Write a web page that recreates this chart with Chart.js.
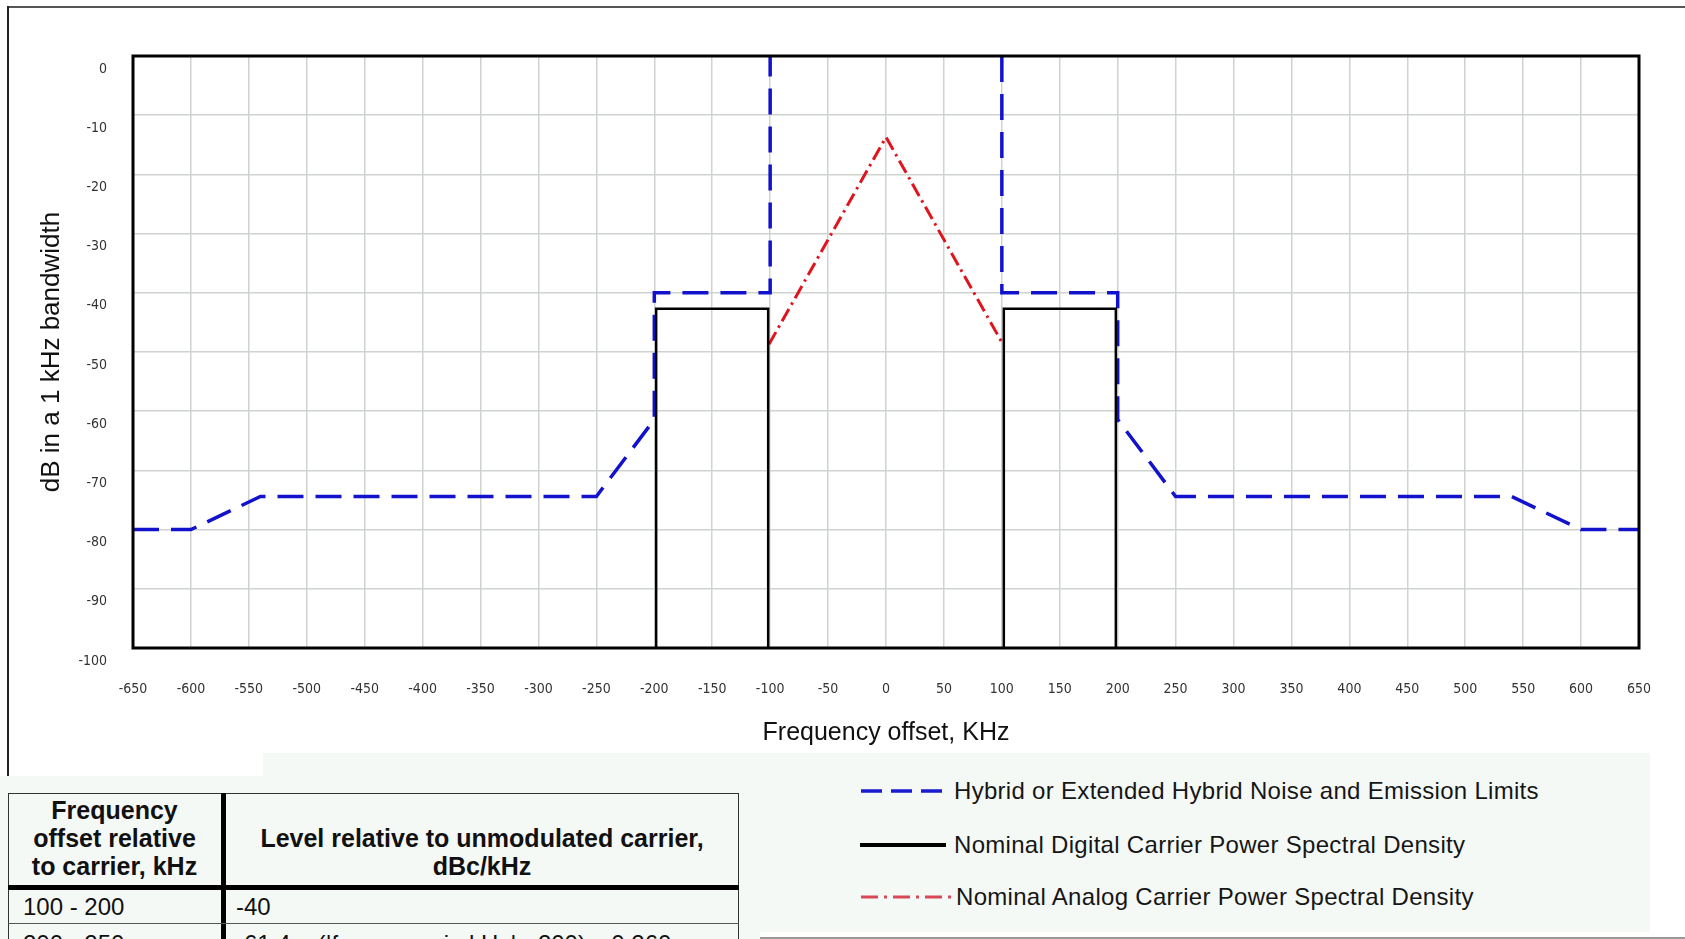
<!DOCTYPE html>
<html>
<head>
<meta charset="utf-8">
<script src="https://cdn.jsdelivr.net/npm/chart.js@4.4.1/dist/chart.umd.min.js"></script>
<style>
  html, body { margin: 0; padding: 0; background: #ffffff; }
  body { width: 1685px; height: 939px; overflow: hidden; position: relative; font-family: "Liberation Sans", Arial, sans-serif; }
  .abs { position: absolute; }
  #chartBox { position: absolute; left: 0; top: 0; width: 1685px; height: 748px; }
  .hdr { position: absolute; font-weight: bold; font-size: 25px; line-height: 28px; color: #111; text-align: center; white-space: nowrap; }
  .cell { position: absolute; font-size: 24px; line-height: 28px; color: #111; white-space: nowrap; }
  .leg { position: absolute; font-size: 24px; letter-spacing: 0.3px; color: #161616; white-space: nowrap; line-height: 28px; }
</style>
</head>
<body>
<!-- outer frame -->
<div class="abs" style="left:7px;top:6px;width:1678px;height:2px;background:#555;"></div>
<div class="abs" style="left:7px;top:6px;width:2px;height:770px;background:#222;"></div>
<!-- light background regions -->
<div class="abs" style="left:263px;top:753px;width:1387px;height:179px;background:#f5f9f6;"></div>
<div class="abs" style="left:0px;top:776px;width:760px;height:163px;background:#f5f9f6;"></div>
<div class="abs" style="left:760px;top:937px;width:925px;height:2px;background:#999;"></div>

<div id="chartBox"><canvas id="c"></canvas></div>

<!-- table -->
<div class="abs" style="left:8px;top:793px;width:729px;height:200px;border:1px solid #333;"></div>
<div class="abs" style="left:221px;top:793px;width:5px;height:200px;background:#000;"></div>
<div class="abs" style="left:8px;top:885px;width:731px;height:5px;background:#000;"></div>
<div class="abs" style="left:8px;top:923px;width:731px;height:1px;background:#555;"></div>
<div class="hdr" style="left:8px;top:796px;width:213px;">Frequency<br>offset relative<br>to carrier, kHz</div>
<div class="hdr" style="left:226px;top:824px;width:512px;">Level relative to unmodulated carrier,<br>dBc/kHz</div>
<div class="cell" style="left:23px;top:893px;">100 - 200</div>
<div class="cell" style="left:236px;top:893px;">-40</div>
<div class="cell" style="left:23px;top:930px;">200 - 250</div>
<div class="cell" style="left:236px;top:930px;">-61.4 – (|frequency in kHz| - 200) x 0.260</div>

<!-- legend -->
<svg class="abs" style="left:855px;top:770px;" width="100" height="150">
  <line x1="6" y1="21" x2="92" y2="21" stroke="#1a1ad0" stroke-width="3.5" stroke-dasharray="21,9"/>
  <line x1="5" y1="75" x2="91" y2="75" stroke="#000" stroke-width="4"/>
  <line x1="6" y1="127" x2="100" y2="127" stroke="#d84858" stroke-width="3" stroke-dasharray="17,6,3,6"/>
</svg>
<div class="leg" style="left:954px;top:777px;">Hybrid or Extended Hybrid Noise and Emission Limits</div>
<div class="leg" style="left:954px;top:831px;">Nominal Digital Carrier Power Spectral Density</div>
<div class="leg" style="left:956px;top:883px;">Nominal Analog Carrier Power Spectral Density</div>

<script>
// ---- data (kHz offset, dB) ----
const hybridLeftX  = [-650, -600, -540, -250, -200, -200, -100, -100];
const hybridLeftY  = [-80, -80, -74.4, -74.4, -61.4, -40, -40, 0];
const hybridRightX = [100, 100, 200, 200, 250, 540, 600, 650];
const hybridRightY = [0, -40, -40, -61.4, -74.4, -74.4, -80, -80];

const digitalLeftX  = [-198.4, -198.4, -101.7, -101.7];
const digitalLeftY  = [-100, -42.7, -42.7, -100];
const digitalRightX = [101.7, 101.7, 198.4, 198.4];
const digitalRightY = [-100, -42.7, -42.7, -100];

const analogX = [-101, 0, 101];
const analogY = [-48.7, -13.7, -48.7];

const xTickMin = -650, xTickMax = 650, xTickStep = 50;
const yTickMin = -100, yTickMax = 0, yTickStep = 10;

const pts = (xs, ys) => xs.map((x, i) => ({ x: x, y: ys[i] }));

const BLUE = '#1212cc', RED = '#e0141e';
const tickFont = { family: '"Liberation Sans Narrow", "DejaVu Sans Condensed", "Liberation Sans", Arial, sans-serif', size: 14 };

const frame = {
  id: 'frame',
  afterDatasetsDraw(chart) {
    const a = chart.chartArea, ctx = chart.ctx;
    ctx.save();
    ctx.strokeStyle = '#000';
    ctx.lineWidth = 3;
    ctx.strokeRect(a.left, a.top, a.right - a.left, a.bottom - a.top);
    ctx.restore();
  }
};

const lineDs = (label, data, color, width, dash) => ({
  label, data, borderColor: color, backgroundColor: color, borderWidth: width,
  borderDash: dash, pointRadius: 0, tension: 0, fill: false
});

new Chart(document.getElementById('c'), {
  type: 'line',
  data: {
    datasets: [
      lineDs('Nominal Digital Carrier Power Spectral Density', pts(digitalLeftX, digitalLeftY), '#000', 2.5, []),
      lineDs('Nominal Digital Carrier Power Spectral Density', pts(digitalRightX, digitalRightY), '#000', 2.5, []),
      lineDs('Nominal Analog Carrier Power Spectral Density', pts(analogX, analogY), RED, 3, [14, 5, 2.5, 5]),
      lineDs('Hybrid or Extended Hybrid Noise and Emission Limits', pts(hybridLeftX, hybridLeftY), BLUE, 3.5, [26, 12]),
      lineDs('Hybrid or Extended Hybrid Noise and Emission Limits', pts(hybridRightX, hybridRightY), BLUE, 3.5, [26, 12])
    ]
  },
  options: {
    responsive: true,
    maintainAspectRatio: false,
    animation: false,
    layout: { padding: { left: 0, top: 56, right: 46, bottom: 0 } },
    plugins: { legend: { display: false }, tooltip: { enabled: false } },
    scales: {
      x: {
        type: 'linear', min: xTickMin, max: xTickMax,
        border: { display: false },
        grid: { color: '#cfd3cf', lineWidth: 1.5, drawTicks: false },
        ticks: { stepSize: xTickStep, color: '#333', font: tickFont, padding: 33, maxRotation: 0, autoSkip: false,
                 callback: v => String(v) },
        title: { display: true, text: 'Frequency offset, KHz', color: '#111',
                 font: { family: '"Liberation Sans", Arial, sans-serif', size: 25 }, padding: { top: 0, bottom: 0 } },
        afterFit: s => { s.height = 100; }
      },
      y: {
        type: 'linear', min: yTickMin, max: yTickMax,
        border: { display: false },
        grid: { color: '#cfd3cf', lineWidth: 1.5, drawTicks: false },
        ticks: { stepSize: yTickStep, color: '#333', font: tickFont, padding: 26, labelOffset: 13,
                 callback: v => String(v) },
        title: { display: true, text: 'dB in a 1 kHz bandwidth', color: '#111',
                 font: { family: '"Liberation Sans", Arial, sans-serif', size: 26 }, padding: { top: 36, bottom: 0 } },
        afterFit: s => { s.width = 133; }
      }
    }
  },
  plugins: [frame]
});
</script>
</body>
</html>
